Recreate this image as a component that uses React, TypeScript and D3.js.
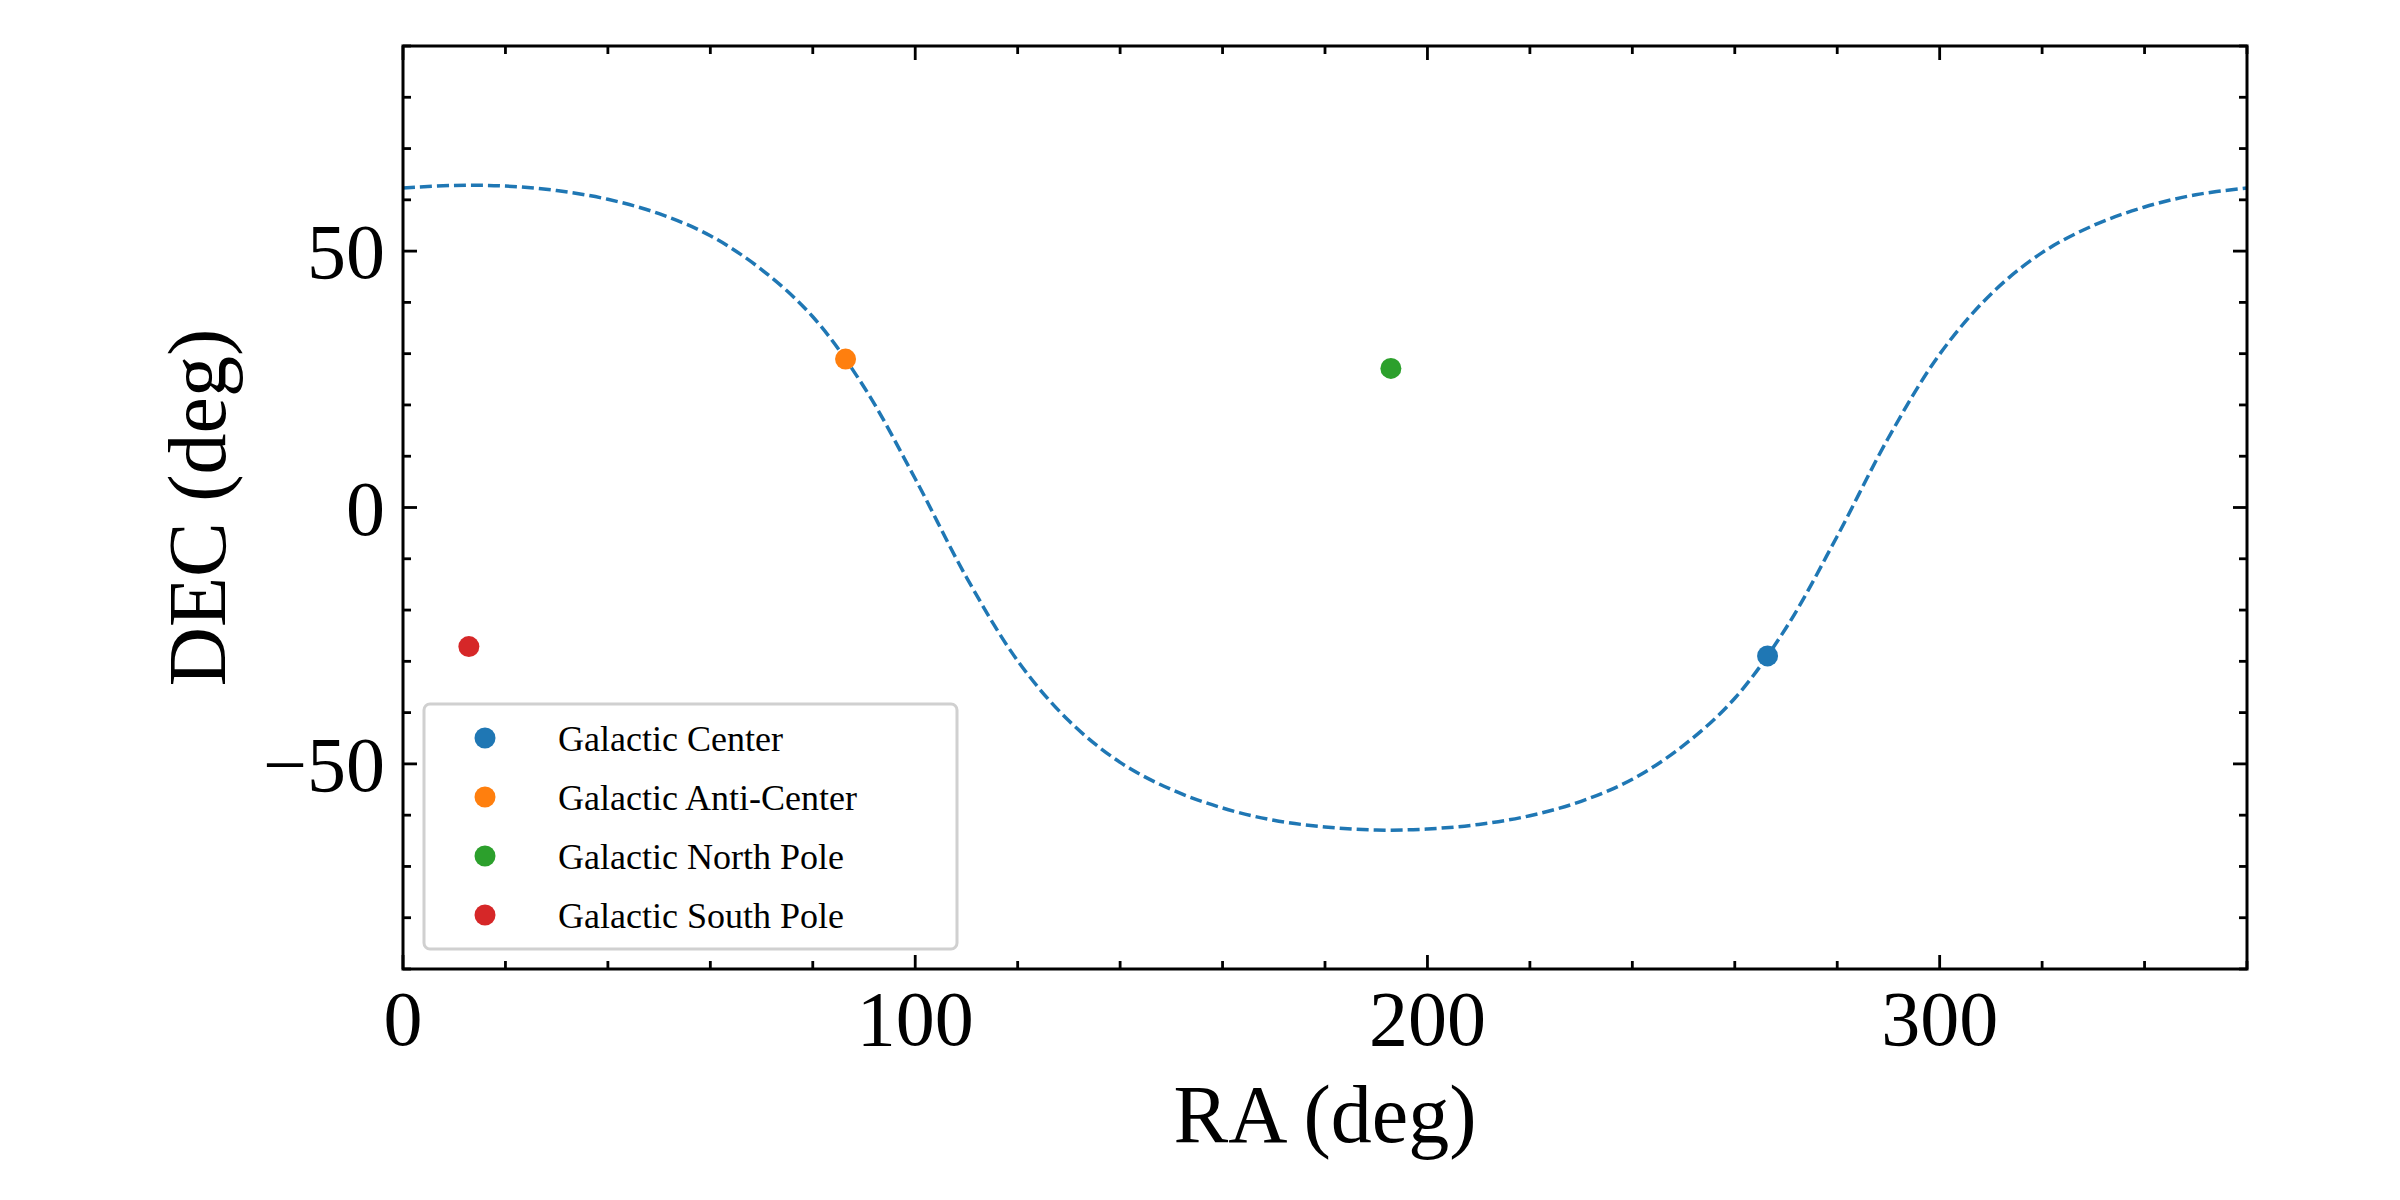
import * as React from 'react';
import * as d3 from 'd3';

// galactic plane (b = 0)
const planeRa = [0, 10, 20, 30, 40, 50, 60, 70, 80, 90, 100, 110, 120, 130, 140, 150, 160, 170, 180, 190, 200, 210, 220, 230, 240, 250, 260, 270, 280, 290, 300, 310, 320, 330, 340, 350, 360];
const planeDec = [62.3, 62.8, 62.7, 61.8, 60.1, 57.3, 53.0, 46.4, 37.2, 23.5, 5.6, -13.6, -29.9, -41.6, -49.7, -55.0, -58.6, -61.0, -62.3, -62.9, -62.7, -61.8, -60.1, -57.3, -53.0, -46.4, -37.2, -23.5, -5.6, 13.6, 29.9, 41.6, 49.7, 55.0, 58.6, 61.0, 62.3];

const pointNames = ['Galactic Center', 'Galactic Anti-Center', 'Galactic North Pole', 'Galactic South Pole'];
const pointRa = [266.4, 86.4, 192.86, 12.86];
const pointDec = [-28.94, 28.94, 27.13, -27.13];
const pointColors = ['#1f77b4', '#ff7f0e', '#2ca02c', '#d62728'];

const xTicks = [0, 100, 200, 300];
const yTicks = [-50, 0, 50];

const W = 2400, H = 1200;
const m = {left: 403, right: 2247, top: 46, bottom: 969};
const font = '"Liberation Serif", "DejaVu Serif", serif';

export default function App() {
    const x = d3.scaleLinear().domain([0, 360]).range([m.left, m.right]);
    const y = d3.scaleLinear().domain([-90, 90]).range([m.bottom, m.top]);

    const line = d3.line<number>()
        .x((d, i) => x(planeRa[i]))
        .y(d => y(d))
        .curve(d3.curveCatmullRom);

    const xMinor = d3.range(0, 361, 20).filter(v => v % 100 !== 0);
    const yMinor = d3.range(-90, 91, 10).filter(v => v % 50 !== 0);

    const lg = {x: 424, y: 704, w: 533, h: 245};

    return (
        <svg width={W} height={H} style={{display: 'block', margin: -8}}>
            <rect width={W} height={H} fill="white" />
            <path d={line(planeDec) || ''} fill="none" stroke="#1f77b4" strokeWidth={3.5} strokeDasharray="12,5" />
            {pointRa.map((r, i) => (
                <circle key={i} cx={x(r)} cy={y(pointDec[i])} r={10.5} fill={pointColors[i]} />
            ))}

            <g stroke="black" strokeWidth={2.8}>
                {xTicks.map(v => (
                    <g key={'xt' + v}>
                        <line x1={x(v)} x2={x(v)} y1={m.bottom} y2={m.bottom - 14} />
                        <line x1={x(v)} x2={x(v)} y1={m.top} y2={m.top + 14} />
                    </g>
                ))}
                {xMinor.map(v => (
                    <g key={'xm' + v}>
                        <line x1={x(v)} x2={x(v)} y1={m.bottom} y2={m.bottom - 8} />
                        <line x1={x(v)} x2={x(v)} y1={m.top} y2={m.top + 8} />
                    </g>
                ))}
                {yTicks.map(v => (
                    <g key={'yt' + v}>
                        <line x1={m.left} x2={m.left + 14} y1={y(v)} y2={y(v)} />
                        <line x1={m.right} x2={m.right - 14} y1={y(v)} y2={y(v)} />
                    </g>
                ))}
                {yMinor.map(v => (
                    <g key={'ym' + v}>
                        <line x1={m.left} x2={m.left + 8} y1={y(v)} y2={y(v)} />
                        <line x1={m.right} x2={m.right - 8} y1={y(v)} y2={y(v)} />
                    </g>
                ))}
            </g>
            <rect x={m.left} y={m.top} width={m.right - m.left} height={m.bottom - m.top} fill="none" stroke="black" strokeWidth={3} />

            <g fontFamily={font} fontSize={78} fill="black">
                {xTicks.map(v => (
                    <text key={'xl' + v} x={x(v)} y={1045} textAnchor="middle">{v}</text>
                ))}
                {yTicks.map(v => (
                    <text key={'yl' + v} x={385} y={y(v)} dy="0.35em" textAnchor="end">{v < 0 ? '\u2212' + Math.abs(v) : v}</text>
                ))}
                <text x={(m.left + m.right) / 2} y={1142} textAnchor="middle" fontSize={82}>RA (deg)</text>
                <text transform={`translate(225, ${(m.top + m.bottom) / 2}) rotate(-90)`} textAnchor="middle" fontSize={82}>DEC (deg)</text>
            </g>

            <rect x={lg.x} y={lg.y} width={lg.w} height={lg.h} rx={6} fill="white" fillOpacity={0.8} stroke="#d0d0d0" strokeWidth={3} />
            {pointNames.map((n, i) => (
                <g key={n}>
                    <circle cx={485} cy={lg.y + 34 + i * 59} r={10.5} fill={pointColors[i]} />
                    <text x={558} y={lg.y + 34 + i * 59} dy="0.35em" fontFamily={font} fontSize={36}>{n}</text>
                </g>
            ))}
        </svg>
    );
}
